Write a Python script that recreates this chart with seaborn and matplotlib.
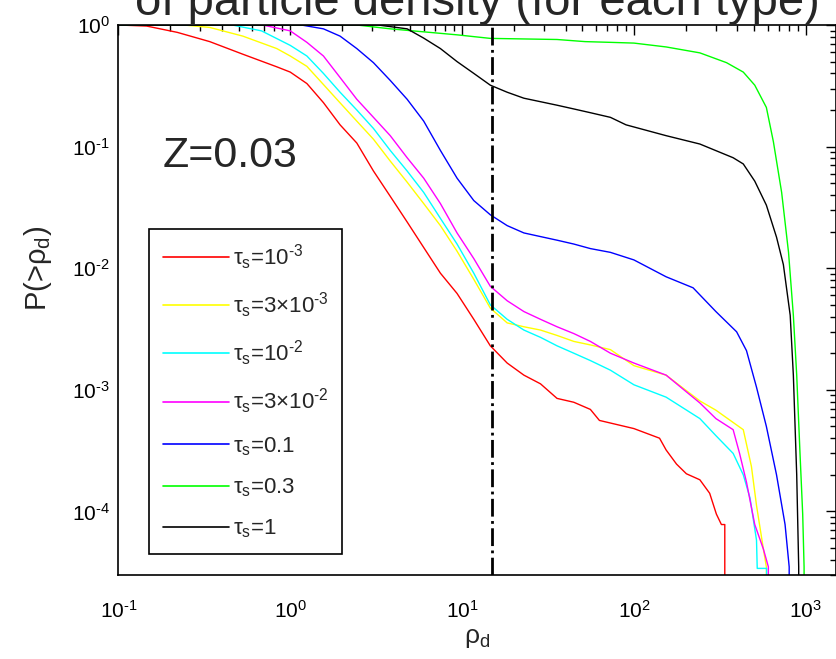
import numpy as np
import pandas as pd
import seaborn as sns
import matplotlib.pyplot as plt
from matplotlib.lines import Line2D
from matplotlib.ticker import FuncFormatter

# series (rho_d, P(>rho_d))
labels = [r'$\tau_s$=10$^{\text{-3}}$', r'$\tau_s$=3×10$^{\text{-3}}$',
          r'$\tau_s$=10$^{\text{-2}}$', r'$\tau_s$=3×10$^{\text{-2}}$',
          r'$\tau_s$=0.1', r'$\tau_s$=0.3', r'$\tau_s$=1']
colors = ['#ff0000', '#ffff00', '#00ffff', '#ff00ff', '#0000ff', '#00ff00', '#000000']

red_rho = [0.1, 0.146, 0.22, 0.34, 0.53, 0.835, 1.0, 1.25, 1.56, 1.95, 2.44, 3.05, 3.82,
           4.79, 5.98, 7.48, 9.35, 11.7, 14.6, 18.3, 22.9, 28.6, 35.7, 44.7, 55.8, 63,
           100, 141, 154, 177, 202, 242, 276, 302, 323, 338, 338]
red_p = [1.0, 0.98, 0.87, 0.73, 0.575, 0.453, 0.41, 0.33, 0.23, 0.151, 0.107, 0.063, 0.039,
         0.024, 0.0148, 0.0091, 0.0062, 0.0038, 0.0023, 0.00166, 0.00132, 0.00112, 0.00085,
         0.00079, 0.00069, 0.00056, 0.00048, 0.0004, 0.00032, 0.000245, 0.000204, 0.000182,
         0.000141, 0.000095, 0.000078, 0.000078, 1e-5]

yellow_rho = [0.1, 0.24, 0.34, 0.53, 0.835, 1.0, 1.25, 1.56, 1.95, 2.44, 3.05, 3.82, 4.79,
              5.98, 7.48, 9.35, 11.7, 14.6, 18.3, 22.9, 28.6, 35.7, 44.7, 55.8, 73, 100,
              154, 242, 300, 433, 483, 517, 567, 590, 590]
yellow_p = [1.0, 1.0, 0.955, 0.81, 0.64, 0.556, 0.457, 0.324, 0.229, 0.162, 0.115, 0.076,
            0.051, 0.034, 0.0224, 0.0138, 0.0081, 0.0047, 0.00355, 0.0033, 0.0031, 0.0028,
            0.0025, 0.00234, 0.00214, 0.00158, 0.00132, 0.00081, 0.00068, 0.00047,
            0.000234, 0.000112, 0.000049, 0.000035, 1e-5]

cyan_rho = [0.1, 0.46, 0.68, 1.0, 1.25, 1.56, 1.95, 2.44, 3.05, 3.82, 4.79, 5.98, 7.48,
            9.35, 11.7, 14.6, 18.3, 22.9, 28.6, 35.7, 44.7, 55.8, 73, 100, 154, 242, 300,
            378, 433, 474, 517, 522, 592, 592]
cyan_p = [1.0, 1.0, 0.895, 0.68, 0.556, 0.40, 0.28, 0.20, 0.141, 0.093, 0.063, 0.042,
          0.0257, 0.0158, 0.0091, 0.005, 0.0038, 0.0031, 0.0027, 0.0023, 0.002, 0.00174,
          0.00145, 0.0011, 0.00087, 0.00058, 0.00042, 0.0003, 0.0002, 0.000129, 0.000058,
          0.000034, 0.000034, 1e-5]

magenta_rho = [0.1, 0.69, 1.0, 1.25, 1.56, 1.95, 2.44, 3.05, 3.82, 4.79, 5.98, 7.48, 9.35,
               11.7, 14.6, 18.3, 22.9, 28.6, 35.7, 44.7, 55.8, 73, 100, 154, 242, 300, 378,
               412, 452, 505, 567, 606, 606]
magenta_p = [1.0, 1.0, 0.895, 0.72, 0.556, 0.37, 0.245, 0.174, 0.123, 0.081, 0.055, 0.034,
             0.0195, 0.012, 0.0071, 0.0054, 0.0044, 0.0038, 0.0033, 0.0029, 0.0025, 0.002,
             0.00166, 0.00132, 0.00078, 0.00058, 0.00047, 0.0003, 0.000174, 0.000078,
             0.000049, 0.000035, 1e-5]

blue_rho = [0.1, 1.16, 1.56, 1.95, 2.44, 3.05, 3.82, 4.79, 5.98, 7.48, 9.35, 11.7, 14.6,
            18.3, 22.9, 28.6, 35.7, 44.7, 55.8, 73, 100, 154, 221, 300, 396, 452, 517, 590,
            676, 758, 801, 801]
blue_p = [1.0, 1.0, 0.93, 0.81, 0.64, 0.49, 0.35, 0.245, 0.162, 0.093, 0.055, 0.036,
          0.0275, 0.0224, 0.0195, 0.0182, 0.017, 0.0158, 0.0145, 0.0135, 0.0117, 0.0085,
          0.0069, 0.0044, 0.003, 0.0021, 0.00105, 0.0005, 0.0002, 0.000078, 0.000035, 1e-5]

green_rho = [0.1, 2.44, 3.82, 9.35, 14.6, 35.7, 52, 73, 100, 154, 242, 346, 433, 505, 590,
             648, 724, 794, 847, 886, 926, 960, 978, 978]
green_p = [1.0, 1.0, 0.93, 0.83, 0.776, 0.76, 0.73, 0.72, 0.71, 0.66, 0.59, 0.49, 0.41,
           0.32, 0.21, 0.11, 0.042, 0.0135, 0.0041, 0.00132, 0.0003, 0.000095, 0.000035, 1e-5]

black_rho = [0.1, 3.24, 4.79, 5.98, 7.48, 9.35, 11.7, 14.6, 18.3, 22.9, 28.6, 35.7, 44.7,
             55.8, 73, 90, 154, 242, 378, 433, 505, 590, 676, 741, 812, 847, 886, 910, 910]
black_p = [1.0, 1.0, 0.93, 0.78, 0.64, 0.50, 0.40, 0.32, 0.28, 0.25, 0.234, 0.219, 0.204,
           0.19, 0.174, 0.151, 0.123, 0.105, 0.081, 0.072, 0.052, 0.033, 0.018, 0.0107,
           0.0041, 0.00132, 0.0002, 0.000035, 1e-5]

rho_cut = 15


def pow10(v, pos):
    e = int(round(np.log10(v)))
    s = str(e).replace('-', r'\text{-}')
    return r'$10^{' + s + '}$'


def main():
    sns.set_style("white")
    plt.rcParams['font.family'] = ['Liberation Sans', 'DejaVu Sans']
    plt.rcParams['mathtext.fontset'] = 'custom'
    plt.rcParams['mathtext.rm'] = 'Liberation Sans'
    plt.rcParams['mathtext.it'] = 'Liberation Sans:italic'
    plt.rcParams['mathtext.default'] = 'regular'
    plt.rcParams['axes.unicode_minus'] = False

    series = [(red_rho, red_p), (yellow_rho, yellow_p), (cyan_rho, cyan_p),
              (magenta_rho, magenta_p), (blue_rho, blue_p), (green_rho, green_p),
              (black_rho, black_p)]
    df = pd.concat([pd.DataFrame({'rho': r, 'P': p, 'tau': lab})
                    for (r, p), lab in zip(series, labels)], ignore_index=True)

    fig = plt.figure(figsize=(8.36, 6.59), dpi=100)
    ax = fig.add_axes([118.4 / 836, 84 / 659, 717.6 / 836, 550 / 659])
    ax.set_xscale('log')
    ax.set_yscale('log')

    sns.lineplot(data=df, x='rho', y='P', hue='tau', hue_order=labels,
                 palette=dict(zip(labels, colors)), estimator=None, sort=False,
                 linewidth=1.0, legend=False, ax=ax)

    ax.axvline(rho_cut, color='k', ls='-.', lw=2)

    ax.set_xlim(0.1, 1500)
    ax.set_ylim(3e-5, 1)
    ax.xaxis.set_major_formatter(FuncFormatter(pow10))
    ax.yaxis.set_major_formatter(FuncFormatter(pow10))

    for s in ax.spines.values():
        s.set_color('k')
        s.set_linewidth(1.2)
    ax.tick_params(which='both', direction='in', top=True, right=True,
                   colors='k', labelsize=15)
    ax.tick_params(which='major', length=7, width=1)
    ax.tick_params(which='minor', length=4, width=1)
    ax.tick_params(axis='x', pad=18)
    ax.tick_params(axis='y', pad=6)

    ax.set_xlabel(r'$\rho_d$', fontsize=19)
    ax.set_ylabel(r'P(>$\rho_d$)', fontsize=21)
    ax.xaxis.set_label_coords(0.5, -0.093)
    ax.yaxis.set_label_coords(-0.09, 0.558)

    ax.text(0.061, 0.742, 'Z=0.03', transform=ax.transAxes, fontsize=31,
            va='baseline', ha='left')

    handles = [Line2D([], [], color=c, lw=1.2) for c in colors]
    leg = ax.legend(handles, labels, loc='upper left', bbox_to_anchor=(0.043, 0.629),
                    borderaxespad=0, fontsize=16, handlelength=3.0,
                    handletextpad=0.15, labelspacing=0.84, borderpad=0.6,
                    fancybox=False, framealpha=1, edgecolor='k')
    leg.get_frame().set_linewidth(1.2)

    # title sits partly above the canvas, as in the reference
    fig.text(0.571, 1 - 15 / 659, 'of particle density (for each type)',
             ha='center', va='baseline', fontsize=34)

    fig.savefig('out.png', dpi=100)


if __name__ == "__main__":
    main()
